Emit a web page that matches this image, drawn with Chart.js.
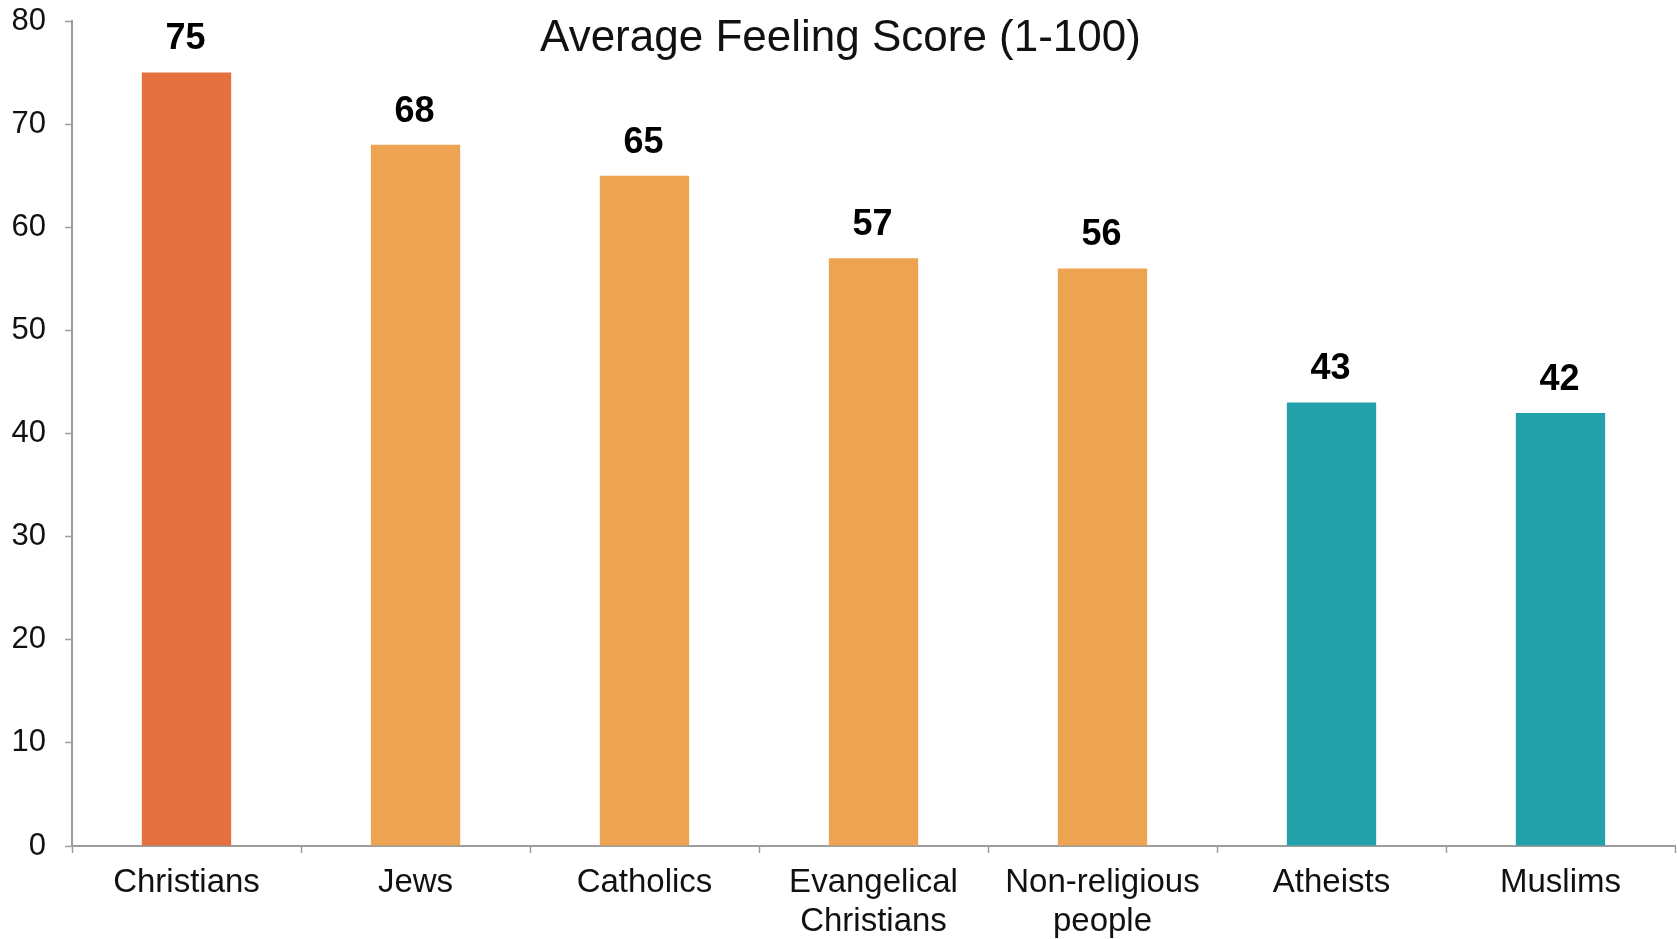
<!DOCTYPE html>
<html>
<head>
<meta charset="utf-8">
<script src="https://cdn.jsdelivr.net/npm/chart.js@4/dist/chart.umd.min.js"></script>
<style>
  html, body { margin: 0; padding: 0; background: #fff; }
  #wrap { width: 1677px; height: 939px; }
</style>
</head>
<body>
<div id="wrap"><canvas id="feelingChart" width="1677" height="939"></canvas></div>
<script>
// data
const groups = ["Christians", "Jews", "Catholics", ["Evangelical", "Christians"], ["Non-religious", "people"], "Atheists", "Muslims"];
const scores = [75, 68, 65, 57, 56, 43, 42];
const barColors = ["#E4713F", "#EEA353", "#EEA353", "#EEA353", "#EEA353", "#22A1AA", "#22A1AA"];
const yTicks = [0, 10, 20, 30, 40, 50, 60, 70, 80];
const chartTitle = "Average Feeling Score (1-100)";

const FONT = "'Liberation Sans', Arial, Helvetica, sans-serif";
const axisGray = "#9d9d9d";

// title sits inside the plot area, so draw it by hand
const titlePlugin = {
  id: "titleInside",
  afterDraw(chart) {
    const ctx = chart.ctx;
    ctx.save();
    ctx.font = "44px " + FONT;
    ctx.fillStyle = "#111";
    ctx.textAlign = "center";
    ctx.textBaseline = "middle";
    ctx.fillText(chartTitle, chart.width / 2 + 2, 39);
    ctx.restore();
  }
};

// value labels over the bars
const valuePlugin = {
  id: "barValues",
  afterDatasetsDraw(chart) {
    const ctx = chart.ctx;
    const meta = chart.getDatasetMeta(0);
    ctx.save();
    ctx.font = "bold 36px " + FONT;
    ctx.fillStyle = "#000";
    ctx.textAlign = "center";
    ctx.textBaseline = "middle";
    meta.data.forEach((bar, i) => {
      ctx.fillText(String(scores[i]), bar.x - 1, bar.y - 33);
    });
    ctx.restore();
  }
};

const ctx = document.getElementById("feelingChart").getContext("2d");

new Chart(ctx, {
  type: "bar",
  data: {
    labels: groups,
    datasets: [{
      data: scores,
      backgroundColor: barColors,
      borderWidth: 0,
      categoryPercentage: 1,
      barPercentage: 0.39
    }]
  },
  options: {
    responsive: false,
    animation: false,
    layout: { padding: { top: 21, right: 2, left: 0, bottom: 0 } },
    plugins: {
      legend: { display: false },
      tooltip: { enabled: false },
      title: { display: false }
    },
    scales: {
      x: {
        grid: {
          drawOnChartArea: false,
          drawTicks: true,
          tickLength: 7,
          tickWidth: 1.5,
          color: axisGray,
          offset: true
        },
        border: { color: axisGray, width: 2 },
        ticks: {
          color: "#111",
          font: { family: FONT, size: 33 },
          padding: 10,
          maxRotation: 0,
          autoSkip: false
        },
        afterFit(scale) { scale.height = 93; }
      },
      y: {
        min: 0,
        max: 80,
        afterBuildTicks(scale) {
          scale.ticks = yTicks.map(v => ({ value: v }));
        },
        grid: {
          drawOnChartArea: false,
          tickLength: 7,
          tickWidth: 1.5,
          color: axisGray
        },
        border: { color: axisGray, width: 2 },
        ticks: {
          color: "#111",
          font: { family: FONT, size: 31 },
          padding: 19
        },
        afterFit(scale) {
          scale.width = 72;
          scale.paddingTop = 0;
          scale.paddingBottom = 0;
        }
      }
    }
  },
  plugins: [titlePlugin, valuePlugin]
});
</script>
</body>
</html>
